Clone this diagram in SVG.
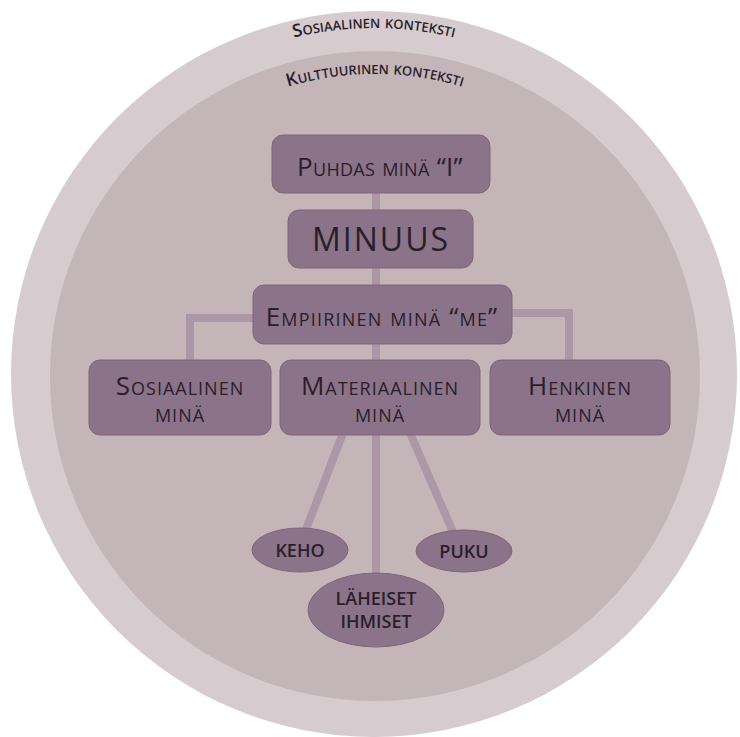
<svg xmlns="http://www.w3.org/2000/svg" width="740" height="737" viewBox="0 0 740 737">
<style>
.sc{font-family:"Open Sans","Liberation Sans",sans-serif;font-variant:small-caps;fill:#2a1e2a;text-anchor:middle;font-weight:500}
.arc{font-family:"Open Sans","Liberation Sans",sans-serif;font-variant:small-caps;fill:#2a1e2a;text-anchor:middle;font-weight:600;font-size:18px}
.cap{font-family:"Open Sans","Liberation Sans",sans-serif;fill:#2a1e2a;text-anchor:middle;font-weight:600;font-size:18px}
.box{fill:#8b7389;stroke:#7e6679;stroke-width:1}
.ell{fill:#8b7389;stroke:#7e6679;stroke-width:1}
.con{stroke:#ab97a6;stroke-width:8;fill:none}
</style>
<defs>
<path id="arcOuter" d="M 28 374 A 346 346 0 0 1 720 374"/>
<path id="arcInner" d="M 73 376 A 302 302 0 0 1 677 376"/>
</defs>
<rect width="740" height="737" fill="#ffffff"/>
<g id="outer">
<circle cx="374" cy="374" r="363" fill="#d6cbce"/>
<text class="arc"><textPath href="#arcOuter" startOffset="50%">Sosiaalinen konteksti</textPath></text>
</g>
<g id="inner">
<circle cx="375" cy="376" r="325" fill="#c4b5b9"/>
<text class="arc"><textPath href="#arcInner" startOffset="50%">Kulttuurinen konteksti</textPath></text>
</g>
<g id="connectors">
<line class="con" x1="376" y1="190" x2="376" y2="362"/>
<polyline class="con" points="256,318 190,318 190,362"/>
<polyline class="con" points="510,313 569,313 569,362"/>
<line class="con" x1="343" y1="433" x2="305" y2="532"/>
<line class="con" x1="410" y1="433" x2="453" y2="532"/>
<line class="con" x1="376" y1="433" x2="376" y2="576"/>
</g>
<g id="puhdas">
<rect class="box" x="272" y="135" width="218" height="58" rx="11"/>
<text class="sc" x="380" y="176" font-size="26" letter-spacing="0.3">Puhdas minä “I”</text>
</g>
<g id="minuus">
<rect class="box" x="288" y="210" width="185" height="58" rx="11"/>
<text class="sc" x="381" y="251" font-size="32" letter-spacing="2">MINUUS</text>
</g>
<g id="empiirinen">
<rect class="box" x="253" y="285" width="259" height="59" rx="11"/>
<text class="sc" x="382" y="326" font-size="26" letter-spacing="1.2">Empiirinen minä “me”</text>
</g>
<g id="sosiaalinen">
<rect class="box" x="89" y="360" width="182" height="75" rx="11"/>
<text class="sc" x="180" y="395" font-size="26" letter-spacing="1">Sosiaalinen</text>
<text class="sc" x="180" y="422" font-size="26" letter-spacing="1">minä</text>
</g>
<g id="materiaalinen">
<rect class="box" x="280" y="360" width="200" height="75" rx="11"/>
<text class="sc" x="380" y="395" font-size="26" letter-spacing="1">Materiaalinen</text>
<text class="sc" x="380" y="422" font-size="26" letter-spacing="1">minä</text>
</g>
<g id="henkinen">
<rect class="box" x="490" y="360" width="180" height="75" rx="11"/>
<text class="sc" x="580" y="395" font-size="26" letter-spacing="1">Henkinen</text>
<text class="sc" x="580" y="422" font-size="26" letter-spacing="1">minä</text>
</g>
<g id="keho">
<ellipse class="ell" cx="300" cy="550" rx="48" ry="22"/>
<text class="cap" x="300" y="557">KEHO</text>
</g>
<g id="puku">
<ellipse class="ell" cx="464" cy="551" rx="48" ry="21"/>
<text class="cap" x="464" y="558">PUKU</text>
</g>
<g id="laheiset">
<ellipse class="ell" cx="376" cy="610" rx="68" ry="37"/>
<text class="cap" x="376" y="605">LÄHEISET</text>
<text class="cap" x="376" y="628">IHMISET</text>
</g>
</svg>
